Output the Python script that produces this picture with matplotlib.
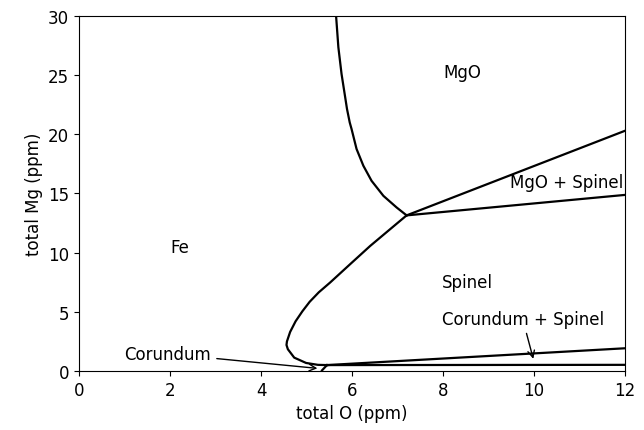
import matplotlib
matplotlib.use('Agg')
import matplotlib.pyplot as plt

# phase boundaries (total O, total Mg) in ppm
mgo_fe_o = [5.65, 5.70, 5.77, 5.85, 5.89, 5.95, 5.99, 6.10, 6.25, 6.43, 6.69, 6.98, 7.2]
mgo_fe_mg = [30.0, 27.36, 25.1, 23.13, 22.14, 21.0, 20.45, 18.76, 17.34, 16.07, 14.8, 13.82, 13.15]

fe_spinel_o = [7.2, 6.84, 6.40, 5.96, 5.52, 5.27, 5.07, 4.91, 4.76, 4.64, 4.57, 4.56, 4.59, 4.73, 4.99, 5.25, 5.45]
fe_spinel_mg = [13.15, 11.99, 10.57, 9.03, 7.48, 6.65, 5.85, 5.05, 4.2, 3.3, 2.5, 2.2, 1.84, 1.13, 0.68, 0.52, 0.5]

mgo_sp_upper_o = [7.2, 12.0]
mgo_sp_upper_mg = [13.15, 20.3]
mgo_sp_lower_o = [7.2, 12.0]
mgo_sp_lower_mg = [13.15, 14.88]

cor_sp_upper_o = [5.45, 12.0]
cor_sp_upper_mg = [0.5, 1.92]
cor_sp_lower_o = [5.45, 12.0]
cor_sp_lower_mg = [0.5, 0.52]

cor_fe_o = [5.45, 5.34]
cor_fe_mg = [0.5, 0.05]

plt.rcParams['font.size'] = 12

fig = plt.figure(figsize=(6.44, 4.31), dpi=100)
ax = fig.add_axes([0.1227, 0.1369, 0.8478, 0.8237])

lw = 1.6
ax.plot(mgo_fe_o, mgo_fe_mg, color='black', lw=lw)
ax.plot(fe_spinel_o, fe_spinel_mg, color='black', lw=lw)
ax.plot(mgo_sp_upper_o, mgo_sp_upper_mg, color='black', lw=lw)
ax.plot(mgo_sp_lower_o, mgo_sp_lower_mg, color='black', lw=lw)
ax.plot(cor_sp_upper_o, cor_sp_upper_mg, color='black', lw=lw)
ax.plot(cor_sp_lower_o, cor_sp_lower_mg, color='black', lw=lw)
ax.plot(cor_fe_o, cor_fe_mg, color='black', lw=lw)

# region labels
ax.text(8.42, 25.3, 'MgO', ha='center', va='center')
ax.text(10.72, 15.95, 'MgO + Spinel', ha='center', va='center')
ax.text(2.22, 10.5, 'Fe', ha='center', va='center')
ax.text(8.53, 7.5, 'Spinel', ha='center', va='center')

ax.annotate('Corundum', xy=(5.3, 0.2), xytext=(1.0, 1.45), ha='left', va='center',
            arrowprops=dict(arrowstyle='->', color='black', lw=1))
ax.annotate('Corundum + Spinel', xy=(10.0, 0.8), xytext=(9.75, 4.4), ha='center', va='center',
            arrowprops=dict(arrowstyle='->', color='black', lw=1))

ax.set_xlim(0, 12)
ax.set_ylim(0, 30)
ax.set_xlabel('total O (ppm)')
ax.set_ylabel('total Mg (ppm)')

fig.savefig('out.png', dpi=100)
